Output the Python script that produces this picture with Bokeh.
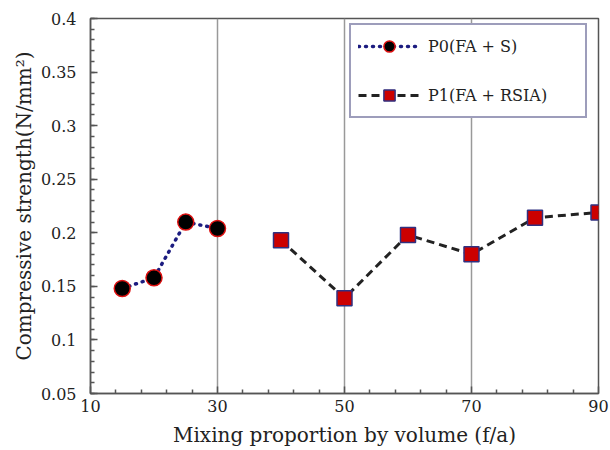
from bokeh.plotting import figure
from bokeh.models import Range1d, FixedTicker, CustomJSTickFormatter, Legend, LegendItem
from bokeh.embed import file_html
from bokeh.resources import INLINE

# ---- data ----
p0_x = [15, 20, 25, 30]
p0_y = [0.148, 0.158, 0.210, 0.204]
p1_x = [40, 50, 60, 70, 80, 90]
p1_y = [0.193, 0.139, 0.198, 0.180, 0.214, 0.219]
x_ticks = [10, 30, 50, 70, 90]
x_minor = [14, 18, 22, 26, 34, 38, 42, 46, 54, 58, 62, 66, 74, 78, 82, 86]
y_ticks = [0.05, 0.1, 0.15, 0.2, 0.25, 0.3, 0.35, 0.4]
y_minor = [round(0.05 + 0.01 * i, 2) for i in range(36)]
labels = ["P0(FA + S)", "P1(FA + RSIA)"]
x_title = "Mixing proportion by volume (f/a)"
y_title = "Compressive strength(N/mm\u00b2)"

FONT = "DejaVu Serif"
TXT = "#222222"

p = figure(width=610, height=450, output_backend="svg", toolbar_location=None,
           x_range=Range1d(10, 90), y_range=Range1d(0.05, 0.4),
           min_border_left=90, min_border_right=12, min_border_top=18, min_border_bottom=57)
p.background_fill_color = "white"
p.border_fill_color = "white"
p.outline_line_color = "#555555"
p.outline_line_width = 1.5

p.xaxis.ticker = FixedTicker(ticks=x_ticks, minor_ticks=x_minor)
p.yaxis.ticker = FixedTicker(ticks=y_ticks, minor_ticks=y_minor)
p.yaxis.formatter = CustomJSTickFormatter(code="return String(Math.round(tick*100)/100);")

for ax in (p.xaxis, p.yaxis):
    ax.axis_line_color = "#555555"
    ax.axis_line_width = 1.5
    ax.major_tick_in = 7
    ax.major_tick_out = 0
    ax.minor_tick_in = 4
    ax.minor_tick_out = 0
    ax.major_tick_line_color = "#555555"
    ax.minor_tick_line_color = "#555555"
    ax.major_tick_line_width = 1.5
    ax.minor_tick_line_width = 1.5
    ax.major_label_text_font = FONT
    ax.major_label_text_font_size = "16px"
    ax.major_label_text_color = TXT
    ax.axis_label_text_font = FONT
    ax.axis_label_text_font_size = "20px"
    ax.axis_label_text_font_style = "normal"
    ax.axis_label_text_color = TXT

p.xaxis.axis_label = x_title
p.yaxis.axis_label = y_title
p.xaxis.major_label_standoff = 6
p.yaxis.major_label_standoff = 14
p.xaxis.axis_label_standoff = 8
p.yaxis.axis_label_standoff = 2

p.xgrid.grid_line_color = "#999999"
p.xgrid.grid_line_width = 1.5
p.ygrid.grid_line_color = None

l0 = p.line(p0_x, p0_y, line_color="#1c1c80", line_width=3.5, line_dash="1 6", line_cap="round")
m0 = p.scatter(p0_x, p0_y, marker="circle", size=16, fill_color="black",
               line_color="#dd1111", line_width=1.5)
l1 = p.line(p1_x, p1_y, line_color="#222222", line_width=3, line_dash="8 5")
m1 = p.scatter(p1_x, p1_y, marker="square", size=15, fill_color="#cc0000",
               line_color="#303080", line_width=1.5)

legend = Legend(items=[LegendItem(label=labels[0], renderers=[l0, m0]),
                       LegendItem(label=labels[1], renderers=[l1, m1])],
                location=(259, 275), orientation="vertical")
legend.padding = 7
legend.spacing = 21
legend.glyph_width = 62
legend.glyph_height = 28
legend.label_height = 20
legend.label_width = 150
legend.label_standoff = 8
legend.label_text_font = FONT
legend.label_text_font_size = "16px"
legend.label_text_color = TXT
legend.border_line_color = "#3c3c78"
legend.border_line_width = 2
legend.background_fill_color = "white"
legend.background_fill_alpha = 1.0
legend.margin = 0
p.add_layout(legend, "center")

open("out.html", "w").write(file_html(p, INLINE))
